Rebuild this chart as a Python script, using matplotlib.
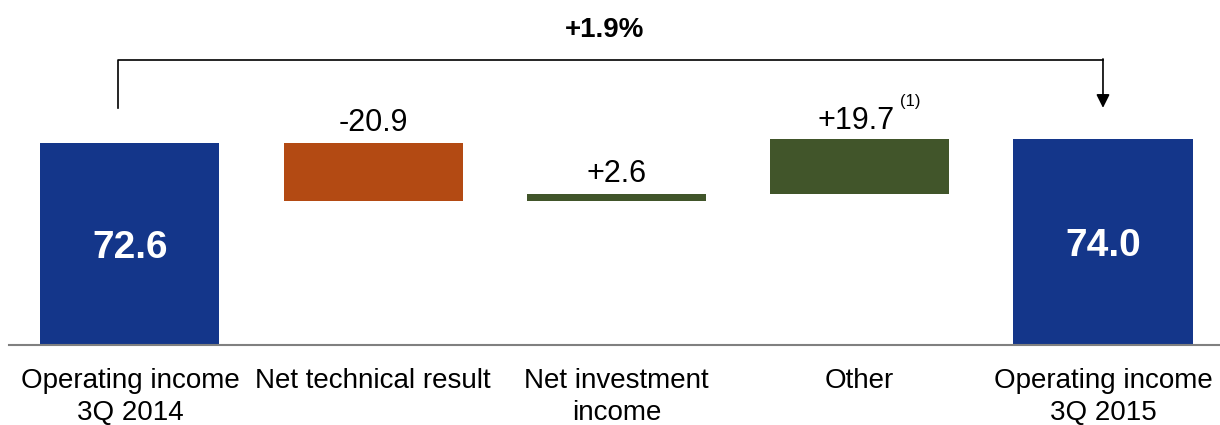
import matplotlib
matplotlib.use("Agg")
import matplotlib.pyplot as plt
import numpy as np

plt.rcParams['font.family'] = ['Liberation Sans', 'DejaVu Sans']

# data
categories = ["Operating income\n3Q 2014", "Net technical result",
              "Net investment\nincome", "Other", "Operating income\n3Q 2015"]
start_value = 72.6
changes = [-20.9, 2.6, 19.7]
end_value = 74.0
change_labels = ["-20.9", "+2.6", "+19.7"]
total_labels = ["72.6", "74.0"]
growth_label = "+1.9%"

blue = "#14368a"
orange = "#b34a13"
green = "#41552a"

fig = plt.figure(figsize=(12.2, 4.25), dpi=100)
ax = fig.add_axes([0, 0, 1, 1])
ax.set_xlim(-0.534, 4.481)
ax.set_ylim(-28.8, 124.1)
ax.axis("off")

width = 0.736
x = np.arange(len(categories))

# totals
ax.bar(x[0], start_value, width, color=blue)
ax.bar(x[-1], end_value, width, color=blue)
ax.text(x[0], start_value * 0.48, total_labels[0], color="white",
        fontsize=28, fontweight="bold", ha="center", va="center")
ax.text(x[-1], end_value * 0.48, total_labels[1], color="white",
        fontsize=28, fontweight="bold", ha="center", va="center")

# floating changes
level = start_value
for i, (c, lab) in enumerate(zip(changes, change_labels)):
    col = orange if c < 0 else green
    bottom = level + min(c, 0)
    ax.bar(x[i + 1], abs(c), width, bottom=bottom, color=col)
    top = max(level, level + c)
    if i == 2:
        ax.annotate(lab, (x[i + 1], top), xytext=(25, 13.5), textcoords="offset points",
                    ha="right", va="center", fontsize=22)
        ax.annotate("(1)", (x[i + 1], top), xytext=(29, 27), textcoords="offset points",
                    ha="left", va="center", fontsize=12)
    else:
        ax.annotate(lab, (x[i + 1], top), xytext=(0, 14.5), textcoords="offset points",
                    ha="center", va="center", fontsize=22)
    level += c

# baseline
ax.axhline(0, xmin=0.007, xmax=1, color="#808080", lw=1.5)

# category labels
for xi, cat in zip(x, categories):
    ax.text(xi, -8.3, cat, ha="center", va="top", fontsize=20, linespacing=1.28)

# growth bracket
yb = 102.5
xl, xr = -0.05, 4.0
ax.plot([xl, xl, xr], [85.3, yb, yb], color="black", lw=1.2)
ax.annotate("", xy=(xr, 85.3), xytext=(xr, yb + 0.4),
            arrowprops=dict(arrowstyle="-|>", color="black", lw=1.2,
                            mutation_scale=20, shrinkA=0, shrinkB=0))
ax.text(1.95, 113.2, growth_label, ha="center", va="center",
        fontsize=20, fontweight="bold")

fig.savefig("out.png", dpi=100)
